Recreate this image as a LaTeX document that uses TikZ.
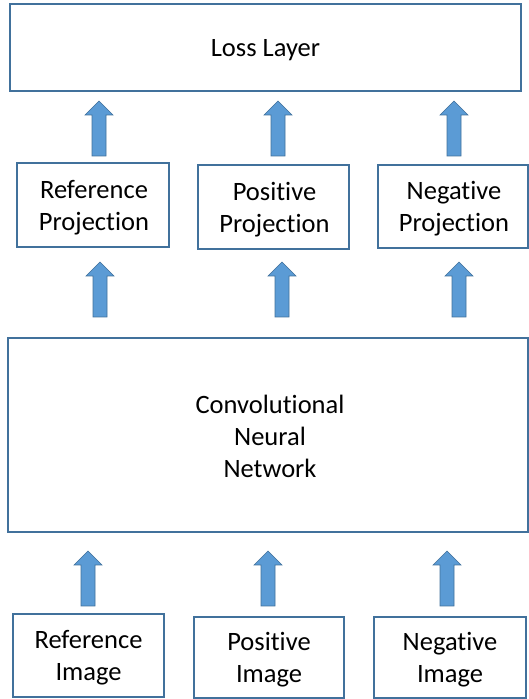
\documentclass[tikz,border=0pt]{standalone}
\usepackage{fontspec}
\setmainfont[Ligatures=NoCommon]{Carlito}
\definecolor{boxline}{HTML}{41719C}
\definecolor{arrowfill}{HTML}{5B9BD5}
\begin{document}
\begin{tikzpicture}[x=1pt,y=1pt,
  box/.style={draw=boxline, line width=1.2pt, fill=white, inner sep=0pt},
  lbl/.style={align=center, inner sep=0pt, font=\fontsize{26.5}{32}\selectfont},
  arrowstyle/.style={fill=arrowfill, draw=boxline, line width=0.6pt},
  barrow/.pic={\filldraw[arrowstyle] (-7,0) -- (-7,41) -- (-14,41) -- (0,55) -- (14,41) -- (7,41) -- (7,0) -- cycle;}
]
\useasboundingbox (0,0) rectangle (529,699);
% boxes
\node[box, minimum width=511pt, minimum height=87pt] (loss) at (265.5,651.5) {};
\node[box, minimum width=152pt, minimum height=84pt] (rproj) at (93,494) {};
\node[box, minimum width=151pt, minimum height=84pt] (pproj) at (273.5,492) {};
\node[box, minimum width=150pt, minimum height=83pt] (nproj) at (453,492.5) {};
\node[box, minimum width=520pt, minimum height=194pt] (cnn) at (268,264) {};
\node[box, minimum width=151pt, minimum height=83pt] (rimg) at (88.5,43.5) {};
\node[box, minimum width=150pt, minimum height=81pt] (pimg) at (269,41.5) {};
\node[box, minimum width=152pt, minimum height=81pt] (nimg) at (450,41.5) {};
% labels
\node[lbl] (tloss) at ([yshift=-2.5pt]loss.center) {Loss Layer};
\node[lbl] (trproj) at ([xshift=1pt,yshift=-2.5pt]rproj.center) {Reference\\Projection};
\node[lbl] (tpproj) at ([xshift=1pt,yshift=-2.5pt]pproj.center) {Positive\\Projection};
\node[lbl] (tnproj) at ([xshift=1pt,yshift=-2.5pt]nproj.center) {Negative\\Projection};
\node[lbl] (tcnn) at ([xshift=2pt,yshift=-1.5pt]cnn.center) {Convolutional\\Neural\\Network};
\node[lbl] (trimg) at ([yshift=-2.5pt]rimg.center) {Reference\\Image};
\node[lbl] (tpimg) at ([yshift=-2.5pt]pimg.center) {Positive\\Image};
\node[lbl] (tnimg) at ([yshift=-2.5pt]nimg.center) {Negative\\Image};
% block arrows
\pic at (99,543) {barrow};
\pic at (278,543) {barrow};
\pic at (454,543) {barrow};
\pic at (100,382) {barrow};
\pic at (282,382) {barrow};
\pic at (459,382) {barrow};
\pic at (88,93) {barrow};
\pic at (268,93) {barrow};
\pic at (447,93) {barrow};
\end{tikzpicture}
\end{document}
